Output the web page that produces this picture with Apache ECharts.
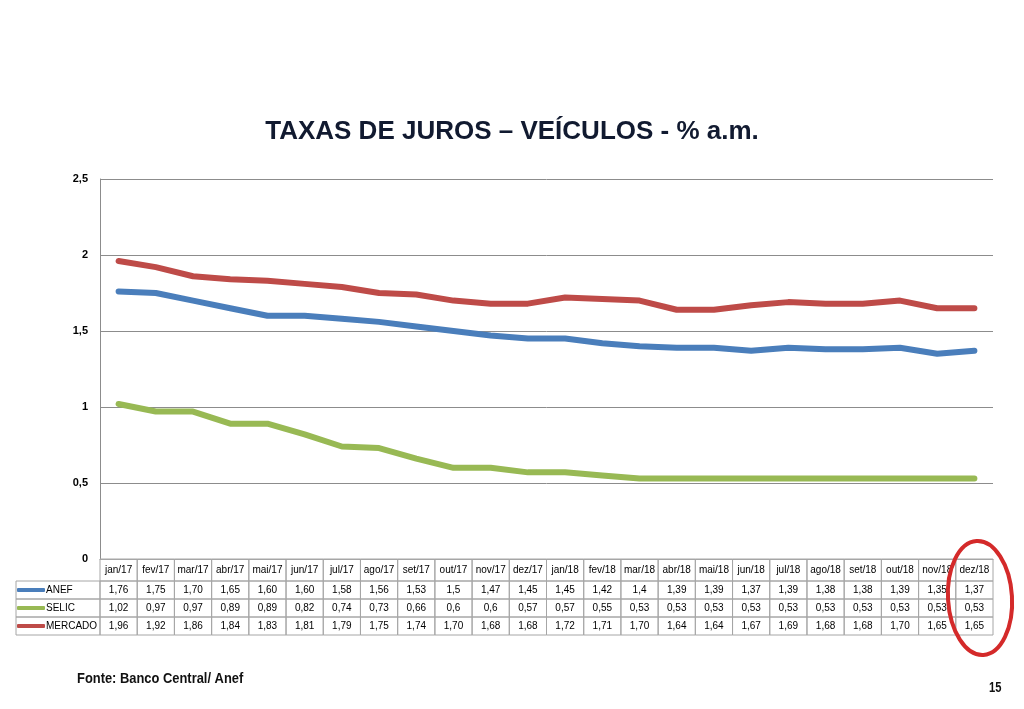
<!DOCTYPE html>
<html>
<head>
<meta charset="utf-8">
<script src="https://cdn.jsdelivr.net/npm/echarts@6/dist/echarts.min.js"></script>
<style>html,body{margin:0;padding:0;background:#fff}#c{width:1024px;height:709px}</style>
</head>
<body>
<div id="c"></div>
<script>
const categories = ['jan/17','fev/17','mar/17','abr/17','mai/17','jun/17','jul/17','ago/17','set/17','out/17','nov/17','dez/17',
  'jan/18','fev/18','mar/18','abr/18','mai/18','jun/18','jul/18','ago/18','set/18','out/18','nov/18','dez/18'];
const anefText = ['1,76','1,75','1,70','1,65','1,60','1,60','1,58','1,56','1,53','1,5','1,47','1,45',
  '1,45','1,42','1,4','1,39','1,39','1,37','1,39','1,38','1,38','1,39','1,35','1,37'];
const selicText = ['1,02','0,97','0,97','0,89','0,89','0,82','0,74','0,73','0,66','0,6','0,6','0,57',
  '0,57','0,55','0,53','0,53','0,53','0,53','0,53','0,53','0,53','0,53','0,53','0,53'];
const mercadoText = ['1,96','1,92','1,86','1,84','1,83','1,81','1,79','1,75','1,74','1,70','1,68','1,68',
  '1,72','1,71','1,70','1,64','1,64','1,67','1,69','1,68','1,68','1,70','1,65','1,65'];
const yTicks = [0, 0.5, 1, 1.5, 2, 2.5];

const toNum = s => parseFloat(s.replace(',', '.'));
const anef = anefText.map(toNum);
const selic = selicText.map(toNum);
const mercado = mercadoText.map(toNum);

const gridLeft = 100, gridRight = 993;
const cw = (gridRight - gridLeft) / categories.length;
const cellBorder = '#a6a6a6';
const cell = (h) => ({width: cw, height: h, align: 'center', verticalAlign: 'middle', borderColor: cellBorder, borderWidth: 1,
  fontSize: 10, fontFamily: 'Liberation Sans, Arial, sans-serif', color: '#000'});

const chart = echarts.init(document.getElementById('c'));
chart.setOption({
  animation: false,
  backgroundColor: '#fff',
  title: {
    text: 'TAXAS DE JUROS – VEÍCULOS - % a.m.',
    left: 'center', top: 114,
    textStyle: {fontSize: 26, fontWeight: 'bold', color: '#111a30', fontFamily: 'Liberation Sans, Arial, sans-serif'}
  },
  legend: {
    data: ['ANEF', 'SELIC', 'MERCADO'],
    orient: 'vertical', left: 17, top: 581,
    itemGap: 0, itemWidth: 28, itemHeight: 4, icon: 'roundRect',
    padding: 0,
    textStyle: {fontSize: 10, color: '#000', lineHeight: 18, height: 18, padding: [0, 0, 0, -4], fontFamily: 'Liberation Sans, Arial, sans-serif'}
  },
  grid: {left: gridLeft, right: 1024 - gridRight, top: 179, bottom: 709 - 559},
  xAxis: {
    type: 'category', data: categories, boundaryGap: true,
    axisLine: {show: true, lineStyle: {color: cellBorder}},
    axisTick: {show: false},
    axisLabel: {
      interval: 0, margin: 0,
      formatter: (v, i) => `{h|${v}}\n{r|${anefText[i]}}\n{r|${selicText[i]}}\n{r|${mercadoText[i]}}`,
      rich: {h: cell(22), r: cell(18)}
    }
  },
  yAxis: {
    type: 'value', min: 0, max: 2.5, interval: 0.5,
    axisLine: {show: true, lineStyle: {color: '#8c8c8c'}},
    axisTick: {show: false},
    splitLine: {lineStyle: {color: '#8c8c8c', width: 1}},
    axisLabel: {
      margin: 12, fontSize: 11, fontWeight: 'bold', color: '#000', fontFamily: 'Liberation Sans, Arial, sans-serif',
      formatter: v => String(v).replace('.', ',')
    }
  },
  series: [
    {name: 'ANEF', type: 'line', data: anef, showSymbol: false, color: '#4a7ebb',
      lineStyle: {width: 6, cap: 'round', join: 'round', color: '#4a7ebb'}},
    {name: 'SELIC', type: 'line', data: selic, showSymbol: false, color: '#98b954',
      lineStyle: {width: 6, cap: 'round', join: 'round', color: '#98b954'}},
    {name: 'MERCADO', type: 'line', data: mercado, showSymbol: false, color: '#be4b48',
      lineStyle: {width: 6, cap: 'round', join: 'round', color: '#be4b48'}}
  ],
  graphic: [
    {type: 'rect', shape: {x: 16, y: 581, width: 84, height: 18}, style: {fill: 'none', stroke: cellBorder, lineWidth: 1}, z: 1},
    {type: 'rect', shape: {x: 16, y: 599, width: 84, height: 18}, style: {fill: 'none', stroke: cellBorder, lineWidth: 1}, z: 1},
    {type: 'rect', shape: {x: 16, y: 617, width: 84, height: 18}, style: {fill: 'none', stroke: cellBorder, lineWidth: 1}, z: 1},
    {type: 'ellipse', shape: {cx: 980, cy: 598, rx: 32, ry: 57}, rotation: 0.06, originX: 980, originY: 598,
      style: {fill: 'none', stroke: '#d42a2a', lineWidth: 4}, z: 100},
    {type: 'text', x: 77, y: 671, scaleX: 0.86, originX: 0, originY: 0, style: {text: 'Fonte: Banco Central/ Anef', fill: '#111',
      font: 'bold 15px "Liberation Sans", Arial, sans-serif'}},
    {type: 'text', x: 989, y: 681, scaleX: 0.8, originX: 0, originY: 0, style: {text: '15', fill: '#111',
      font: 'bold 14px "Liberation Sans", Arial, sans-serif'}}
  ]
});
</script>
</body>
</html>
